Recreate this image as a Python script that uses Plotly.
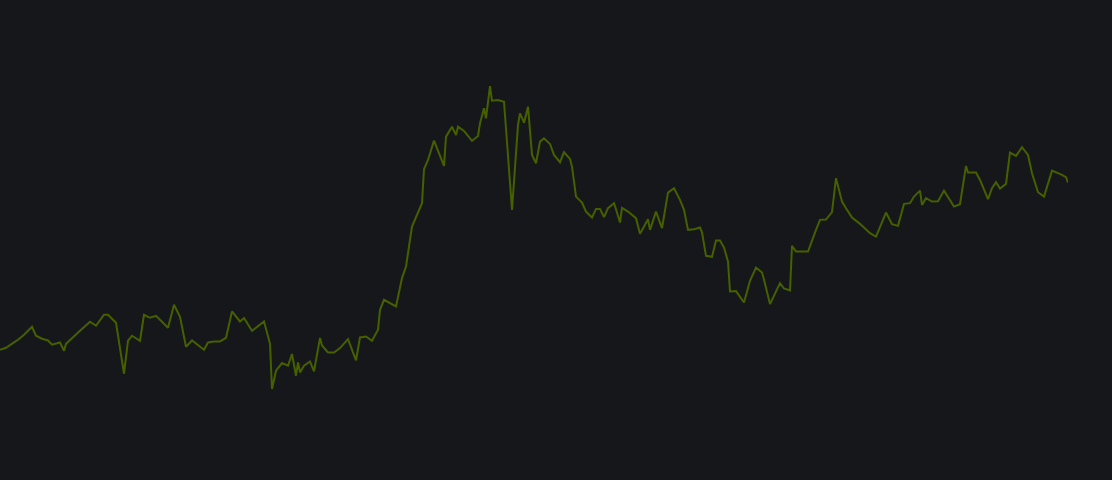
import plotly.graph_objects as go

# day index (x) and price (y)
dias = [
    0, 3, 7, 9, 12, 16, 18, 21, 24, 26, 30, 32, 33, 36, 40, 45, 48, 52, 54, 58,
    62, 64, 66, 70, 72, 75, 78, 81, 84, 87, 90, 93, 96, 102, 104, 107, 110, 113, 116, 120,
    122, 126, 132, 135, 136, 138, 141, 144, 146, 148, 149, 150, 152, 155, 157, 160, 161, 164, 167, 170,
    174, 178, 180, 183, 186, 189, 190, 192, 198, 201, 203, 206, 208, 211, 212, 214, 217, 222, 223, 226,
    228, 229, 232, 236, 239, 240, 242, 243, 245, 246, 249, 252, 256, 257, 259, 260, 262, 264, 266, 268,
    270, 272, 275, 277, 280, 282, 285, 286, 288, 291, 293, 296, 298, 300, 302, 304, 307, 308, 310, 311,
    314, 318, 320, 324, 325, 328, 331, 334, 337, 340, 342, 344, 347, 350, 351, 353, 356, 358, 360, 362,
    364, 365, 368, 372, 375, 378, 381, 382, 385, 390, 392, 395, 396, 398, 404, 408, 410, 413, 416, 418,
    421, 423, 426, 430, 435, 438, 443, 446, 449, 452, 455, 457, 460, 461, 463, 466, 469, 472, 477, 480,
    483, 484, 488, 490, 494, 496, 498, 500, 503, 505, 508, 511, 514, 516, 519, 522, 524, 526, 531, 533,
    534,
]

precios = [
    13.00, 13.20, 13.73, 14.00, 14.50, 15.30, 14.40, 14.10, 13.93, 13.50, 13.73, 12.90, 13.60, 14.20, 14.90, 15.80, 15.40, 16.50, 16.50, 15.70,
    10.60, 13.90, 14.40, 13.90, 16.50, 16.20, 16.40, 15.80, 15.20, 17.50, 16.30, 13.30, 13.93, 13.00, 13.73, 13.83, 13.83, 14.20, 16.83, 15.83,
    16.17, 14.90, 15.83, 13.60, 9.07, 10.90, 11.67, 11.40, 12.57, 10.40, 11.73, 10.73, 11.40, 11.83, 10.83, 14.17, 13.43, 12.73, 12.73, 13.17,
    14.07, 11.93, 14.23, 14.33, 13.90, 15.00, 17.00, 18.00, 17.33, 20.17, 21.33, 25.33, 26.33, 27.67, 31.07, 32.00, 33.93, 31.40, 34.33, 35.33,
    34.50, 35.33, 34.90, 33.90, 34.40, 35.67, 37.17, 36.17, 39.40, 37.93, 38.00, 37.83, 27.00, 30.00, 35.50, 36.67, 35.73, 37.33, 32.50, 31.67,
    33.83, 34.17, 33.60, 32.50, 31.77, 32.77, 32.10, 31.33, 28.33, 27.73, 26.83, 26.23, 27.10, 27.10, 26.27, 27.17, 27.67, 27.07, 25.73, 27.20,
    26.83, 26.17, 24.60, 26.07, 25.00, 26.83, 25.17, 28.73, 29.17, 28.00, 27.00, 25.00, 25.07, 25.23, 24.75, 22.40, 22.30, 23.93, 23.93, 23.23,
    21.83, 18.83, 18.87, 17.73, 19.90, 21.23, 20.73, 20.00, 17.57, 19.67, 19.13, 18.93, 23.40, 22.83, 22.83, 25.00, 26.00, 26.03, 26.77, 30.17,
    27.83, 27.17, 26.23, 25.60, 24.67, 24.33, 26.73, 25.57, 25.40, 27.60, 27.67, 28.33, 28.93, 27.50, 28.17, 27.83, 27.87, 28.93, 27.33, 27.57,
    31.40, 30.73, 30.73, 30.00, 28.07, 29.17, 29.77, 29.13, 29.60, 32.73, 32.40, 33.27, 32.50, 30.67, 28.77, 28.33, 29.67, 30.93, 30.50, 30.27,
    29.73,
]

fig = go.Figure()

fig.add_trace(go.Scatter(
    x=dias, y=precios, mode='lines',
    line=dict(width=2, color='#466000'),
    hoverinfo='none', showlegend=False
))

fig.update_layout(
    width=1112, height=480,
    paper_bgcolor='#15171b', plot_bgcolor='#15171b',
    margin=dict(l=0, r=44, t=86, b=91),
    xaxis=dict(visible=False, range=[min(dias), max(dias)]),
    yaxis=dict(visible=False, range=[min(precios), max(precios)]),
)

# quitar el margen blanco de la página
fig.write_html(
    "out.html",
    config={'displayModeBar': False},
    post_script="document.body.style.margin='0';document.body.style.background='#15171b';"
)
